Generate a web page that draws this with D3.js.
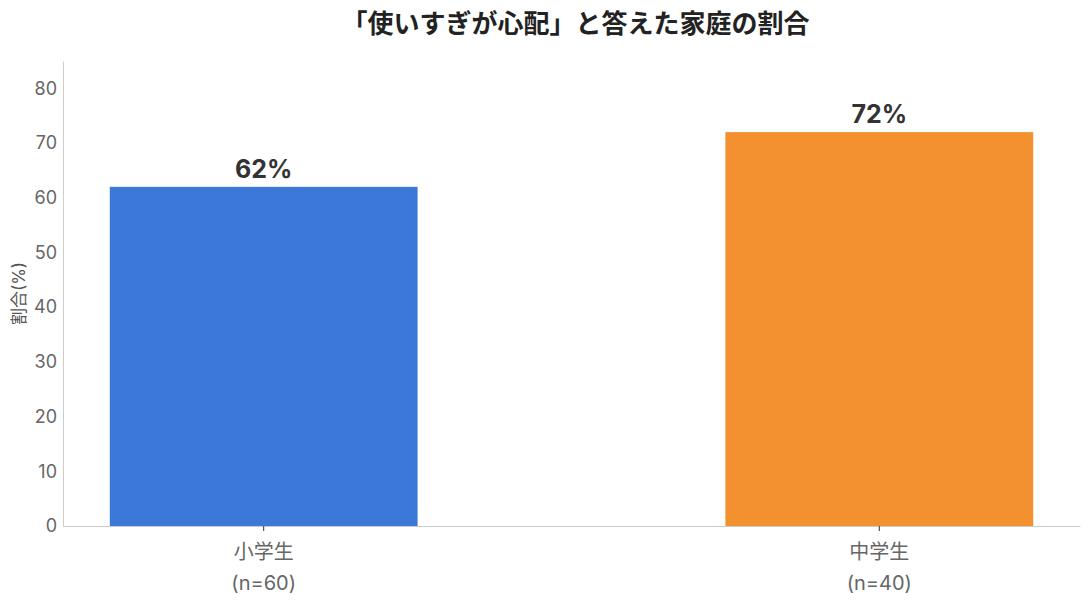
<!DOCTYPE html>
<html>
<head>
<meta charset="utf-8">
<script src="https://cdn.jsdelivr.net/npm/d3@7"></script>
<style>
  body { margin: 0; background: #fff; }
  text { font-family: Inter, "Noto Sans CJK JP", sans-serif; }
</style>
</head>
<body>
<script>
var categories = ['小学生', '中学生'];
var sampleSizes = ['(n=60)', '(n=40)'];
var percentages = [62, 72];
var yTicks = [0, 10, 20, 30, 40, 50, 60, 70, 80];
var barColors = ['#3c78d8', '#f39030'];

var screen = { width: 1089, height: 610 };
var margins = { top: 61, left: 63, bottom: 84, right: 9 };
var width = screen.width - margins.left - margins.right;
var height = screen.height - margins.top - margins.bottom;

var svg = d3.select('body')
            .append('svg')
            .attr('width', screen.width)
            .attr('height', screen.height);

var chart = svg.append('g')
               .attr('transform', 'translate(' + margins.left + ',' + margins.top + ')');

var xScale = d3.scaleBand()
               .domain(categories)
               .range([0, width])
               .paddingInner(0.5)
               .paddingOuter(0.076);

var yScale = d3.scaleLinear()
               .domain([0, 85])
               .range([height, 0]);

// bars
chart.selectAll('rect.bar')
     .data(percentages)
     .enter()
     .append('rect')
     .classed('bar', true)
     .attr('x', function(d, i){ return xScale(categories[i]); })
     .attr('y', function(d){ return yScale(d); })
     .attr('width', xScale.bandwidth())
     .attr('height', function(d){ return height - yScale(d); })
     .attr('fill', function(d, i){ return barColors[i]; });

// value labels
chart.selectAll('text.value')
     .data(percentages)
     .enter()
     .append('text')
     .classed('value', true)
     .attr('x', function(d, i){ return xScale(categories[i]) + xScale.bandwidth() / 2; })
     .attr('y', function(d){ return yScale(d) - 9; })
     .attr('text-anchor', 'middle')
     .attr('font-size', 25)
     .attr('font-weight', 'bold')
     .attr('fill', '#333')
     .text(function(d){ return d + '%'; });

// y axis
var yAxis = d3.axisLeft(yScale)
              .tickValues(yTicks)
              .tickSize(0)
              .tickPadding(6);
var yG = chart.append('g').call(yAxis);
yG.select('.domain').attr('stroke', '#ccc');
yG.selectAll('text')
  .attr('font-size', 18)
  .attr('fill', '#666')
  .style('font-family', 'Inter, sans-serif');

// x axis
var xAxis = d3.axisBottom(xScale)
              .tickSize(5)
              .tickSizeOuter(0)
              .tickFormat('');
var xG = chart.append('g')
              .attr('transform', 'translate(0,' + height + ')')
              .call(xAxis);
xG.select('.domain').attr('stroke', '#ccc');
xG.selectAll('.tick line').attr('stroke', '#333');

var catLabels = chart.append('g')
                     .attr('transform', 'translate(0,' + height + ')');
categories.forEach(function(c, i){
  var cx = xScale(c) + xScale.bandwidth() / 2;
  var t = catLabels.append('text')
                   .attr('text-anchor', 'middle')
                   .attr('font-size', 20)
                   .attr('fill', '#666');
  t.append('tspan').attr('x', cx).attr('y', 33).text(c);
  t.append('tspan').attr('x', cx).attr('y', 64).text(sampleSizes[i]);
});

// y label
svg.append('text')
   .attr('transform', 'translate(25,' + (margins.top + height / 2) + ') rotate(-90)')
   .attr('text-anchor', 'middle')
   .attr('font-size', 17)
   .attr('fill', '#555')
   .text('割合(%)');

// title
svg.append('text')
   .attr('x', margins.left + width / 2 + 4)
   .attr('y', 33)
   .attr('text-anchor', 'middle')
   .attr('font-size', 26)
   .attr('font-weight', 'bold')
   .attr('fill', '#222')
   .text('「使いすぎが心配」と答えた家庭の割合');
</script>
</body>
</html>
